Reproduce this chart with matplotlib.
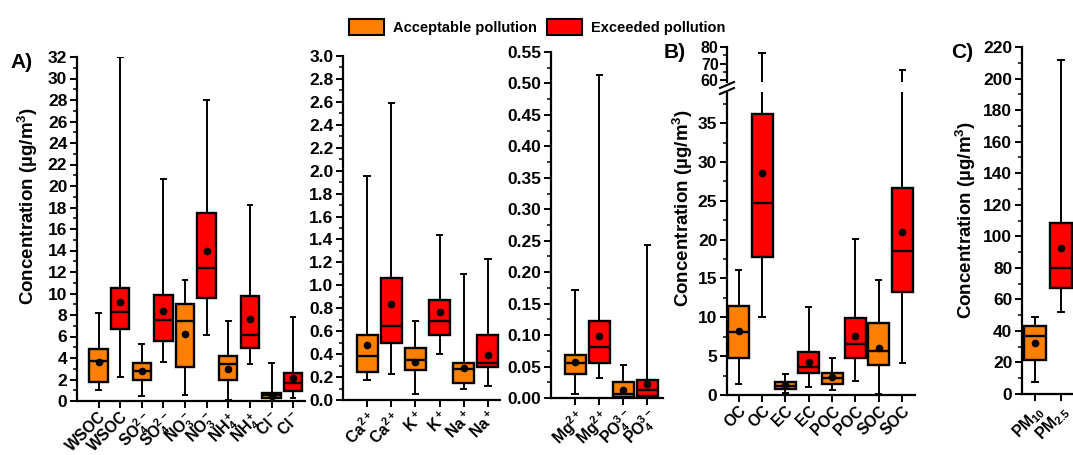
import numpy as np
import matplotlib
matplotlib.use('Agg')
import matplotlib.pyplot as plt
from matplotlib.patches import Patch
from matplotlib.lines import Line2D
from matplotlib.ticker import MultipleLocator, FormatStrFormatter

plt.rcParams['font.family'] = ['Liberation Sans', 'DejaVu Sans']
plt.rcParams['font.weight'] = 'bold'
plt.rcParams['mathtext.fontset'] = 'custom'
plt.rcParams['mathtext.rm'] = 'Liberation Sans:bold'
plt.rcParams['mathtext.it'] = 'Liberation Sans:bold'
plt.rcParams['mathtext.bf'] = 'Liberation Sans:bold'
plt.rcParams['mathtext.default'] = 'regular'

W, H = 1073, 455
ORANGE = '#FF8000'
RED = '#FF0000'

# Panel A, major ions / WSOC (ug/m3): acceptable / exceeded alternate
a1_labels = ['WSOC', 'WSOC', r'SO$_4^{2-}$', r'SO$_4^{2-}$', r'NO$_3^-$', r'NO$_3^-$',
             r'NH$_4^+$', r'NH$_4^+$', r'Cl$^-$', r'Cl$^-$']
a1_lo   = [1.0, 2.2, 0.47, 3.6, 0.6, 6.1, 0.1, 3.45, 0.0, 0.3]
a1_q1   = [1.8, 6.7, 2.0, 5.6, 3.15, 9.55, 1.95, 4.9, 0.25, 0.95]
a1_med  = [3.75, 8.3, 2.75, 7.55, 7.45, 12.4, 3.4, 6.1, 0.55, 1.65]
a1_q3   = [4.8, 10.55, 3.5, 9.9, 9.0, 17.5, 4.15, 9.8, 0.78, 2.6]
a1_hi   = [8.2, 32.0, 5.3, 20.65, 11.3, 28.0, 7.45, 18.25, 3.5, 7.85]
a1_mean = [3.6, 9.2, 2.75, 8.4, 6.25, 14.0, 2.95, 7.65, 0.47, 2.1]

# Panel A, minor cations
a2_labels = [r'Ca$^{2+}$', r'Ca$^{2+}$', r'K$^+$', r'K$^+$', r'Na$^+$', r'Na$^+$']
a2_lo   = [0.175, 0.225, 0.05, 0.40, 0.093, 0.122]
a2_q1   = [0.245, 0.50, 0.26, 0.57, 0.15, 0.285]
a2_med  = [0.385, 0.645, 0.35, 0.69, 0.27, 0.32]
a2_q3   = [0.565, 1.06, 0.455, 0.87, 0.325, 0.567]
a2_hi   = [1.95, 2.59, 0.685, 1.435, 1.095, 1.227]
a2_mean = [0.48, 0.835, 0.335, 0.765, 0.28, 0.39]

# Panel A, trace ions
a3_labels = [r'Mg$^{2+}$', r'Mg$^{2+}$', r'PO$_4^{3-}$', r'PO$_4^{3-}$']
a3_lo   = [0.007, 0.032, 0.0, 0.0]
a3_q1   = [0.038, 0.0555, 0.0016, 0.003]
a3_med  = [0.0555, 0.081, 0.006, 0.013]
a3_q3   = [0.0677, 0.122, 0.026, 0.029]
a3_hi   = [0.171, 0.513, 0.052, 0.244]
a3_mean = [0.057, 0.099, 0.013, 0.023]

# Panel B, carbon fractions
b_labels = ['OC', 'OC', 'EC', 'EC', 'POC', 'POC', 'SOC', 'SOC']
b_lo   = [1.4, 10.1, 0.2, 1.0, 0.65, 1.75, 0.1, 4.1]
b_q1   = [4.7, 17.7, 0.8, 2.8, 1.4, 4.75, 3.9, 13.3]
b_med  = [8.05, 24.75, 1.2, 3.65, 2.15, 6.55, 5.7, 18.5]
b_q3   = [11.4, 36.2, 1.7, 5.55, 2.8, 9.85, 9.25, 26.6]
b_hi   = [16.1, 76.5, 2.7, 11.3, 4.7, 20.1, 14.75, 66.5]
b_mean = [8.2, 28.6, 1.3, 4.2, 2.3, 7.55, 6.1, 21.0]

# Panel C, PM mass
c_labels = [r'PM$_{10}$', r'PM$_{2.5}$']
c_lo   = [7.4, 51.7]
c_q1   = [21.3, 67.5]
c_med  = [36.9, 80.0]
c_q3   = [42.8, 108.2]
c_hi   = [48.7, 212.0]
c_mean = [32.3, 92.4]

YLABEL = 'Concentration (µg/m$^3$)'

fig = plt.figure(figsize=(W / 100, H / 100), dpi=100)


def ax_px(l, r, t, b):
    return fig.add_axes([l / W, 1 - b / H, (r - l) / W, (b - t) / H])


def make_stats(lo, q1, med, q3, hi, mean):
    return [dict(whislo=a, q1=b, med=c, q3=d, whishi=e, mean=f, fliers=[])
            for a, b, c, d, e, f in zip(lo, q1, med, q3, hi, mean)]


def draw_boxes(ax, st, width):
    n = len(st)
    bp = ax.bxp(st, positions=list(range(1, n + 1)), widths=width,
                patch_artist=True, showmeans=True, capwidths=0.22,
                manage_ticks=False,
                boxprops=dict(linewidth=1.7, edgecolor='black'),
                medianprops=dict(color='black', linewidth=1.7),
                whiskerprops=dict(color='black', linewidth=1.4),
                capprops=dict(color='black', linewidth=1.4),
                meanprops=dict(marker='o', markerfacecolor='black',
                               markeredgecolor='black', markersize=4.5))
    for i, patch in enumerate(bp['boxes']):
        patch.set_facecolor(ORANGE if i % 2 == 0 else RED)


def style(ax, ymaj, ymin, fmt, labels=None):
    for s in ['top', 'right']:
        ax.spines[s].set_visible(False)
    for s in ['left', 'bottom']:
        ax.spines[s].set_linewidth(1.6)
    ax.yaxis.set_major_locator(MultipleLocator(ymaj))
    ax.yaxis.set_minor_locator(MultipleLocator(ymin))
    ax.yaxis.set_major_formatter(FormatStrFormatter(fmt))
    ax.tick_params(which='major', direction='out', length=5, width=1.4,
                   labelsize=12.5, pad=2)
    ax.tick_params(which='minor', direction='out', length=3, width=1.1)
    ax.tick_params(axis='x', which='minor', bottom=False)
    ax.tick_params(axis='x', which='major', pad=1)
    if labels is not None:
        ax.set_xticks(range(1, len(labels) + 1))
        ax.set_xticklabels(labels, rotation=45, ha='right',
                           rotation_mode='anchor', fontsize=11.3)


# A) three sub-axes
ax1 = ax_px(77, 305, 57, 401)
draw_boxes(ax1, make_stats(a1_lo, a1_q1, a1_med, a1_q3, a1_hi, a1_mean), 0.85)
ax1.set_xlim(0, 10.55)
ax1.set_ylim(0, 32)
style(ax1, 2, 1, '%d', a1_labels)

ax2 = ax_px(343, 500, 56, 400)
draw_boxes(ax2, make_stats(a2_lo, a2_q1, a2_med, a2_q3, a2_hi, a2_mean), 0.87)
ax2.set_xlim(0, 6.5)
ax2.set_ylim(0, 3.0)
style(ax2, 0.2, 0.1, '%.1f', a2_labels)

ax3 = ax_px(551, 663, 52, 398)
draw_boxes(ax3, make_stats(a3_lo, a3_q1, a3_med, a3_q3, a3_hi, a3_mean), 0.87)
ax3.set_xlim(0, 4.65)
ax3.set_ylim(0, 0.55)
style(ax3, 0.05, 0.025, '%.2f', a3_labels)

# B) broken y axis
b_stats = make_stats(b_lo, b_q1, b_med, b_q3, b_hi, b_mean)
axb = ax_px(727, 915, 92, 395)
draw_boxes(axb, b_stats, 0.9)
axb.set_xlim(0.5, 8.55)
axb.set_ylim(0, 39)
style(axb, 5, 2.5, '%d', b_labels)

axb2 = ax_px(727, 915, 47, 82)
draw_boxes(axb2, b_stats, 0.9)
axb2.set_xlim(0.5, 8.55)
axb2.set_ylim(59, 80)
style(axb2, 10, 5, '%d')
axb2.spines['bottom'].set_visible(False)
axb2.tick_params(axis='x', which='both', bottom=False, labelbottom=False)
axb2.tick_params(axis='y', labelsize=11.5, pad=1)

for y0 in (85, 91):
    fig.add_artist(Line2D([720 / W, 734 / W], [1 - (y0 + 3) / H, 1 - (y0 - 3) / H],
                          color='black', linewidth=1.5))

# C) PM
axc = ax_px(1022, 1073, 47, 394)
draw_boxes(axc, make_stats(c_lo, c_q1, c_med, c_q3, c_hi, c_mean), 0.85)
axc.set_xlim(0.5, 2.46)
axc.set_ylim(0, 220)
style(axc, 20, 10, '%d', c_labels)

# y labels and panel letters
for x, y in [(28, 206), (683, 208), (966, 220)]:
    fig.text(x / W, 1 - y / H, YLABEL, rotation=90, ha='center', va='center',
             fontsize=13.5, fontweight='bold')
for x, y, s in [(22, 62, 'A)'), (675, 52, 'B)'), (962, 52, 'C)')]:
    fig.text(x / W, 1 - y / H, s, ha='center', va='center',
             fontsize=15, fontweight='bold')

handles = [Patch(facecolor=ORANGE, edgecolor='black', linewidth=1.5),
           Patch(facecolor=RED, edgecolor='black', linewidth=1.5)]
fig.legend(handles, ['Acceptable pollution', 'Exceeded pollution'],
           loc='center', bbox_to_anchor=(537 / W, 1 - 27 / H), ncol=2,
           frameon=False, fontsize=10.5, handlelength=2.4, handleheight=1.3,
           handletextpad=0.6, columnspacing=0.7, borderpad=0)

fig.savefig('out.png', dpi=100, facecolor='white')
